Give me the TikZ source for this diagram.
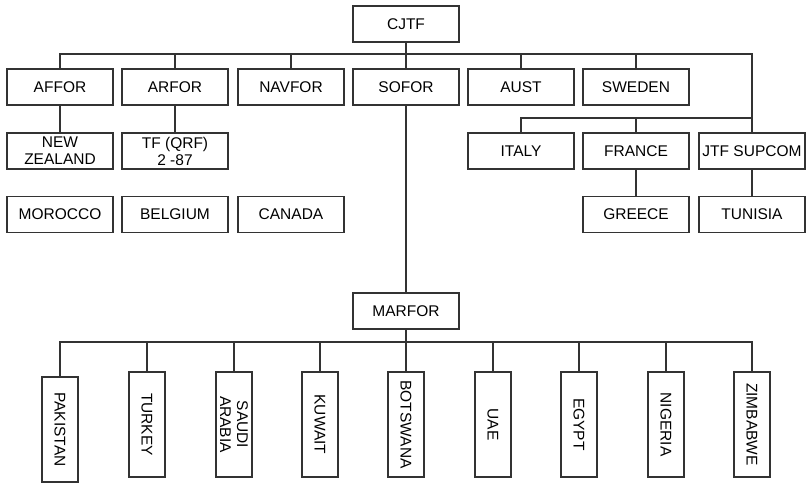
\documentclass[tikz,border=0pt]{standalone}
\usepackage{fontspec}
\setmainfont{Liberation Sans}
\usetikzlibrary{positioning}

\begin{document}
\begin{tikzpicture}[
    x=1pt, y=-1pt,
    unit/.style={draw=black!80, line width=1.2pt, minimum width=106pt, minimum height=36pt,
                inner sep=1pt, align=center, font=\fontsize{15.5}{17}\selectfont},
    vunit/.style={unit, rotate=-90, minimum width=105pt, minimum height=36pt},
    link/.style={draw=black!80, line width=1.2pt}
]
\useasboundingbox (0,0) rectangle (806,484);

\node[unit] (cjtf) at (406,24) {CJTF};

\node[unit] (affor)  at (60,87)  {AFFOR};
\node[unit] (arfor)  at (175,87) {ARFOR};
\node[unit] (navfor) at (291,87) {NAVFOR};
\node[unit] (sofor)  at (406,87) {SOFOR};
\node[unit] (aust)   at (521,87) {AUST};
\node[unit] (sweden) at (636,87) {SWEDEN};

\node[unit] (nz)     at (60,151)  {NEW\\ZEALAND};
\node[unit] (tf)     at (175,151) {TF (QRF)\\2 -87};
\node[unit] (italy)  at (521,151) {ITALY};
\node[unit] (france) at (636,151) {FRANCE};
\node[unit] (supcom) at (752,151) {JTF SUPCOM};

\node[unit] (morocco) at (60,214.5)  {MOROCCO};
\node[unit] (belgium) at (175,214.5) {BELGIUM};
\node[unit] (canada)  at (291,214.5) {CANADA};
\node[unit] (greece)  at (636,214.5) {GREECE};
\node[unit] (tunisia) at (752,214.5) {TUNISIA};

\node[unit] (marfor) at (406,311) {MARFOR};

\node[vunit] (pakistan) at (60,429.5)  {PAKISTAN};
\node[vunit] (turkey)   at (147,424.5) {TURKEY};
\node[vunit] (saudi)    at (234,424.5) {SAUDI\\ARABIA};
\node[vunit] (kuwait)   at (320,424.5) {KUWAIT};
\node[vunit] (botswana) at (406,424.5) {BOTSWANA};
\node[vunit] (uae)      at (493,424.5) {UAE};
\node[vunit] (egypt)    at (579,424.5) {EGYPT};
\node[vunit] (nigeria)  at (666,424.5) {NIGERIA};
\node[vunit] (zimbabwe) at (752,424.5) {ZIMBABWE};

\coordinate (bustop) at (406,54);
\coordinate (busright) at (752,118);
\coordinate (busbottom) at (406,342);

% top level
\draw[link] (cjtf) -- (sofor);
\foreach \n in {affor,arfor,navfor,aust,sweden}
    \draw[link] (\n.north) |- (bustop);
\draw[link] (bustop) -| (supcom.north);
\draw[link] (italy.north) |- (busright);
\draw[link] (france.north) |- (busright);

\draw[link] (affor) -- (nz);
\draw[link] (arfor) -- (tf);
\draw[link] (france) -- (greece);
\draw[link] (supcom) -- (tunisia);

% marfor branch
\draw[link] (sofor) -- (marfor);
\draw[link] (marfor.south) -- (botswana.west);
\foreach \n in {pakistan,turkey,saudi,kuwait,uae,egypt,nigeria,zimbabwe}
    \draw[link] (\n.west) |- (busbottom);
\end{tikzpicture}
\end{document}
